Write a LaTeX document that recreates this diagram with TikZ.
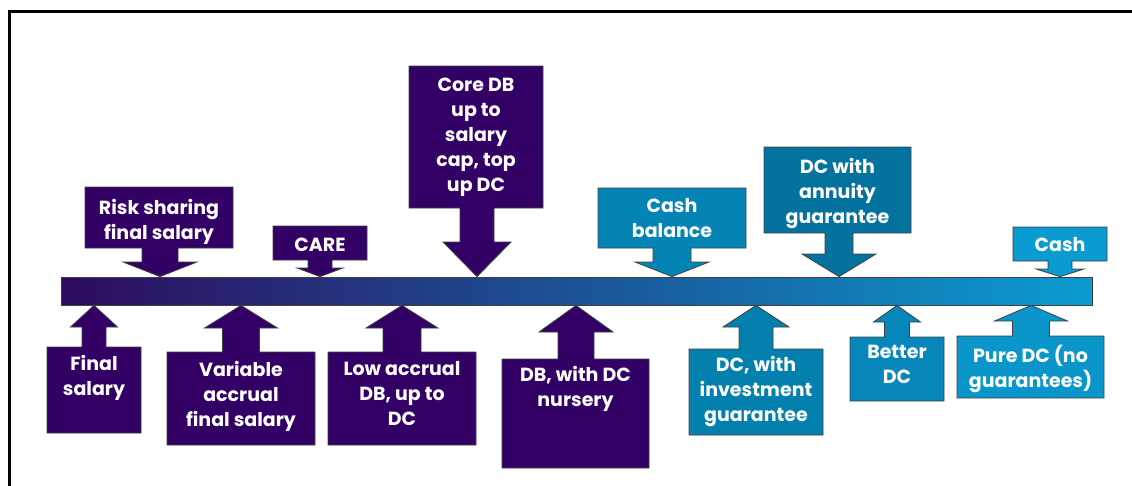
\documentclass[tikz,border=0pt]{standalone}
\usepackage{fontspec}
\setmainfont{Poppins}
\usepackage{xcolor}
\usetikzlibrary{positioning}

\definecolor{plum}{HTML}{330066}
\definecolor{barleft}{HTML}{2E0B5D}
\definecolor{barmid}{HTML}{2A6098}
\definecolor{barright}{HTML}{0A9CD0}
\definecolor{cashbal}{HTML}{0484B4}
\definecolor{annuity}{HTML}{04729E}
\definecolor{cashc}{HTML}{0A9BD0}
\definecolor{invest}{HTML}{0480AE}
\definecolor{better}{HTML}{0786BC}
\definecolor{puredc}{HTML}{0A96CA}

\begin{document}
\begin{tikzpicture}[
  x=1pt, y=-1pt,
  callout/.style={draw=black!75, line width=0.8pt, line join=miter},
  lbl/.style={text=white, font=\fontsize{19}{25}\selectfont\bfseries, align=center, inner sep=0pt, anchor=north},
  barstyle/.style={draw=black!75, line width=0.8pt, minimum width=1031pt, minimum height=28pt, inner sep=0pt,
    left color=barleft, middle color=barmid, right color=barright},
]
\useasboundingbox (0,0) rectangle (1132,485);

% frame
\draw[line width=2.5pt] (9.5,490) -- (9.5,11.5) -- (1140,11.5);

% timeline bar
\node[barstyle] (bar) at (576.5,291) {};

% callouts above the bar
\foreach \nm/\col/\xa/\xb/\ya/\yb/\tx/\sw/\hw/\hy/\ty/\txt in {
  risk/plum/85/233/187/248/160/18/37/262/199/{Risk sharing\\final salary},
  care/plum/273/367/226/260/320/12/23/268/238/{CARE},
  core/plum/409/543/66/208/477/17/34/242/78/{Core DB\\up to\\salary\\cap, top\\up DC},
  cashbal/cashbal/598/746/188/248/672/19/37/262/198/{Cash\\balance},
  annuity/annuity/764/911/147/233/839/14/37/254/158/{DC with\\annuity\\guarantee},
  cash/cashc/1013/1107/227/261/1060/12/24/269/237/{Cash}}{
  \draw[callout, fill=\col] (\xa,\ya) -- (\xb,\ya) -- (\xb,\yb) -- ({\tx+\sw},\yb) -- ({\tx+\sw},\hy)
    -- ({\tx+\hw},\hy) -- (\tx,0 |- bar.north) -- ({\tx-\hw},\hy) -- ({\tx-\sw},\hy) -- ({\tx-\sw},\yb)
    -- (\xa,\yb) -- cycle;
  \node[lbl] (\nm) at ({(\xa+\xb)/2},\ty) {\txt};
}

% callouts below the bar
\foreach \nm/\col/\xa/\xb/\ya/\yb/\tx/\sw/\hw/\hy/\ty/\txt in {
  final/plum/47/141/347/433/94/12/23.5/327/355/{Final\\salary},
  variable/plum/167/315/352/445/241/18.5/36.5/328/361/{Variable\\accrual\\final salary},
  low/plum/328/476/352/445/402/19/36/328/361/{Low accrual\\DB, up to\\DC},
  nursery/plum/502/649/359/468/576/18/37/332/366/{DB, with DC\\nursery},
  invest/invest/689/823/349/435/756/17/33/327/356/{DC, with\\investment\\guarantee},
  better/better/850/944/337/401/897/12.5/23.5/322/345/{Better\\DC},
  pure/puredc/957/1104/336/398/1031/18.5/36.5/321/345/{Pure DC (no\\guarantees)}}{
  \draw[callout, fill=\col] (\xa,\yb) -- (\xb,\yb) -- (\xb,\ya) -- ({\tx+\sw},\ya) -- ({\tx+\sw},\hy)
    -- ({\tx+\hw},\hy) -- (\tx,0 |- bar.south) -- ({\tx-\hw},\hy) -- ({\tx-\sw},\hy) -- ({\tx-\sw},\ya)
    -- (\xa,\ya) -- cycle;
  \node[lbl] (\nm) at ({(\xa+\xb)/2},\ty) {\txt};
}
\end{tikzpicture}
\end{document}
